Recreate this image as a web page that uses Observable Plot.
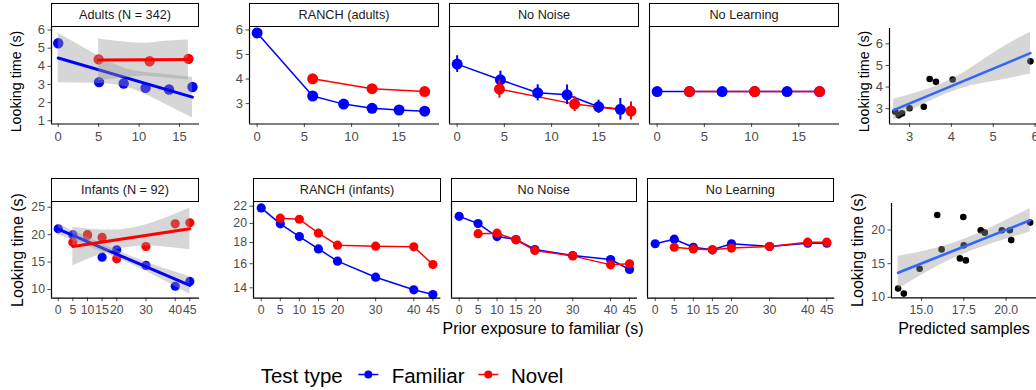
<!DOCTYPE html>
<html><head><meta charset="utf-8">
<script src="https://cdn.jsdelivr.net/npm/d3@7"></script>
<script src="https://cdn.jsdelivr.net/npm/@observablehq/plot@0.6"></script>
<style>
body{margin:0;background:#fff;}
#root{position:relative;width:1036px;height:390px;overflow:hidden;font-family:"Liberation Sans",Arial,sans-serif;background:#fff;}
.strip{position:absolute;box-sizing:border-box;border:1.3px solid #000;background:#fff;display:flex;align-items:center;justify-content:center;font-size:12.7px;color:#1a1a1a;white-space:nowrap;}
</style></head><body><div id="root"></div>
<script>
// ---------- Data ----------
// Row 1: adults
const adultFamX = [0, 5.05, 8.1, 10.8, 13.7, 16.6];
const adultFamY = [5.27, 3.13, 3.05, 2.81, 2.72, 2.86];
const adultNovX = [5.0, 11.3, 16.1];
const adultNovY = [4.38, 4.28, 4.41];
const adultFamFitX = [0, 16.6], adultFamFitY = [4.46, 2.30];
const adultNovFitX = [5.0, 16.1], adultNovFitY = [4.35, 4.37];
const adultFamBandX = [0, 4.15, 8.3, 12.45, 16.6];
const adultFamBandLo = [3.10, 3.07, 2.88, 2.09, 1.15];
const adultFamBandHi = [5.82, 4.77, 3.88, 3.59, 3.40];
const adultNovBandX = [5.0, 7.8, 10.55, 13.3, 16.1];
const adultNovBandLo = [3.20, 3.35, 3.45, 3.35, 3.25];
const adultNovBandHi = [5.50, 5.35, 5.27, 5.38, 5.45];

const ranchAdFamX = [0, 5.88, 9.16, 12.17, 15.03, 17.74];
const ranchAdFamY = [5.88, 3.31, 2.98, 2.81, 2.74, 2.69];
const ranchAdNovX = [5.88, 12.17, 17.74];
const ranchAdNovY = [4.01, 3.61, 3.49];

const noNoiseAdFamX = [0, 4.58, 8.53, 11.64, 14.98, 17.28];
const noNoiseAdFamY = [4.61, 3.97, 3.44, 3.36, 2.87, 2.77];
const noNoiseAdFamErr = [0.34, 0.35, 0.33, 0.40, 0.27, 0.44];
const noNoiseAdNovX = [4.48, 12.44, 18.41];
const noNoiseAdNovY = [3.59, 2.98, 2.70];
const noNoiseAdNovErr = [0.37, 0.30, 0.37];

const noLearnAdFamX = [0, 3.42, 6.88, 10.33, 13.76, 17.2];
const noLearnAdFamY = [3.49, 3.49, 3.49, 3.49, 3.49, 3.49];
const noLearnAdNovX = [3.42, 10.33, 17.2];
const noLearnAdNovY = [3.49, 3.49, 3.49];

const scatAdX = [2.66, 2.74, 2.82, 3.0, 3.34, 3.48, 3.63, 4.03, 5.89];
const scatAdY = [2.86, 2.69, 2.78, 3.02, 3.09, 4.37, 4.24, 4.35, 5.19];
const scatAdFitX = [2.62, 5.89], scatAdFitY = [2.93, 5.57];
const scatAdBandX = [2.62, 3.5, 4.3, 5.1, 5.89];
const scatAdBandLo = [2.47, 3.35, 3.97, 4.29, 4.60];
const scatAdBandHi = [3.43, 3.95, 4.67, 5.69, 6.54];

// Row 2: infants
const infX = [0, 5, 10, 15, 20, 30, 40, 45];
const infNovXs = [5, 10, 15, 20, 30, 40, 45];
const infFamY = [21.07, 19.97, 19.9, 15.9, 17.24, 14.4, 10.6, 11.47];
const infNovY = [18.6, 20.0, 19.5, 15.6, 17.84, 21.97, 22.16];
const infFamFitX = [0, 45], infFamFitY = [21.0, 10.74];
const infNovFitX = [5, 45], infNovFitY = [17.84, 21.07];
const infFamBandX = [0, 11, 22, 33, 45];
const infFamBandLo = [20.0, 17.69, 15.28, 12.52, 9.14];
const infFamBandHi = [22.0, 19.29, 16.68, 14.42, 12.34];
const infNovBandX = [5, 15, 25, 35, 45];
const infNovBandLo = [14.34, 16.45, 17.76, 17.86, 17.27];
const infNovBandHi = [21.34, 20.85, 21.16, 22.66, 24.87];

const ranchInfFamY = [21.8, 19.96, 18.6, 17.37, 16.23, 14.85, 13.85, 13.49];
const ranchInfNovY = [20.59, 20.47, 18.95, 17.73, 17.63, 17.57, 15.93];
const noNoiseInfFamY = [20.8, 19.99, 18.6, 18.3, 17.31, 16.74, 16.38, 15.5];
const noNoiseInfNovY = [18.9, 18.95, 18.27, 17.22, 16.71, 15.9, 16.0];
const noLearnInfFamY = [17.87, 18.33, 17.53, 17.28, 17.87, 17.6, 17.93, 17.93];
const noLearnInfNovY = [17.53, 17.37, 17.28, 17.45, 17.6, 18.03, 18.03];

const scatInfX = [13.62, 13.96, 14.89, 15.93, 16.19, 17.27, 17.47, 17.5, 17.62, 18.5, 18.74, 19.75, 20.22, 20.3, 21.42];
const scatInfY = [11.3, 10.55, 14.24, 22.24, 17.12, 15.78, 21.94, 17.72, 15.48, 19.96, 19.61, 19.96, 19.96, 18.5, 21.1];
const scatInfFitX = [13.62, 21.42], scatInfFitY = [13.64, 21.45];
const scatInfBandX = [13.62, 15.57, 17.52, 19.47, 21.42];
const scatInfBandLo = [11.19, 14.09, 16.44, 18.2, 19.7];
const scatInfBandHi = [16.09, 17.09, 18.64, 20.8, 23.2];

// Ticks and labels
const row1XTicks = [0, 5, 10, 15];
const row2XTicks = [0, 5, 10, 15, 20, 30, 40, 45];
const adultYTicks = [1, 2, 3, 4, 5, 6];
const ranchAdYTicks = [3, 4, 5, 6];
const infYTicks = [10, 15, 20, 25];
const ranchInfYTicks = [14, 16, 18, 20, 22];
const scatAdXTicks = [3, 4, 5, 6], scatAdYTicks = [3, 4, 5, 6];
const scatInfXTicks = [15, 17.5, 20], scatInfYTicks = [10, 15, 20];
const stripLabels1 = ["Adults (N = 342)", "RANCH (adults)", "No Noise", "No Learning"];
const stripLabels2 = ["Infants (N = 92)", "RANCH (infants)", "No Noise", "No Learning"];
const yTitle = "Looking time (s)";
const xTitle = "Prior exposure to familiar (s)";
const scatXTitle = "Predicted samples";
const legendTitle = "Test type";
const legendLabels = ["Familiar", "Novel"];

// ---------- Rendering ----------
const BLUE = "#0000ff", RED = "#ff0000", FIT = "#3366ff", BANDFILL = "#999999";
const FONT = '"Liberation Sans", Arial, sans-serif';
const root = document.getElementById("root");
const zip = (xs, ys, extra) => xs.map((x, i) => Object.assign({x, y: ys[i]}, extra ? extra(i) : {}));
const band = (xs, lo, hi) => xs.map((x, i) => ({x, lo: lo[i], hi: hi[i]}));

function panel(b, o) {
  const mL = 40, mR = 6, mT = 4, mB = 28;
  const svg = Plot.plot({
    width: b.R - b.L + mL + mR, height: b.B - b.T + mT + mB,
    marginLeft: mL, marginRight: mR, marginTop: mT, marginBottom: mB,
    style: {background: "transparent", fontFamily: FONT, fontSize: o.fs + "px", color: "#4d4d4d", overflow: "visible"},
    x: {domain: o.xd, ticks: o.xt, tickFormat: o.xf || (d => String(d)), tickSize: 3.5, tickPadding: 4, label: null},
    y: {domain: o.yd, type: o.ytype || "linear", ticks: o.yt, tickFormat: d => String(d), tickSize: 3.5, tickPadding: 3, label: null, axis: o.yt ? "left" : null},
    marks: [
      ...o.marks,
      Plot.ruleX([o.xd[0]], {stroke: "#000", strokeWidth: 1.2}),
      Plot.ruleY([o.yd[0]], {stroke: "#000", strokeWidth: 1.2})
    ]
  });
  svg.style.position = "absolute";
  svg.style.left = (b.L - mL) + "px";
  svg.style.top = (b.T - mT) + "px";
  svg.style.maxWidth = "none";
  root.appendChild(svg);
}

function strip(L, R, T, B, text) {
  const d = document.createElement("div");
  d.className = "strip";
  d.style.left = L + "px"; d.style.top = T + "px";
  d.style.width = (R - L) + "px"; d.style.height = (B - T) + "px";
  d.textContent = text;
  root.appendChild(d);
}

function modelMarks(fam, nov, r, withErr) {
  const m = [
    Plot.line(fam, {x: "x", y: "y", stroke: BLUE, strokeWidth: 1.5}),
    Plot.line(nov, {x: "x", y: "y", stroke: RED, strokeWidth: 1.5})
  ];
  if (withErr) m.push(Plot.ruleX(fam, {x: "x", y1: d => d.y - d.e, y2: d => d.y + d.e, stroke: BLUE, strokeWidth: 2}));
  m.push(Plot.dot(fam, {x: "x", y: "y", r, fill: BLUE, stroke: "none"}));
  if (withErr) m.push(Plot.ruleX(nov, {x: "x", y1: d => d.y - d.e, y2: d => d.y + d.e, stroke: RED, strokeWidth: 2}));
  m.push(Plot.dot(nov, {x: "x", y: "y", r, fill: RED, stroke: "none"}));
  return m;
}

function smoothMarks(bandData, fitData, color, w) {
  return [
    Plot.areaY(bandData, {x: "x", y1: "lo", y2: "hi", fill: BANDFILL, fillOpacity: 0.4, curve: "natural"}),
    Plot.line(fitData, {x: "x", y: "y", stroke: color, strokeWidth: w})
  ];
}

// Row 1 geometry
const r1T = 27, r1B = 123.5;
const row1Y = [2.17, 6.1];
const row1X = [-0.81, 19.31];
const fs1 = 13, fs2 = 12.3;

// Adults panel
panel({L: 51, R: 199, T: r1T, B: r1B}, {
  fs: fs1, xd: [-0.83, 17.47], yd: [0.82, 6.14], xt: row1XTicks, yt: adultYTicks,
  marks: [
    Plot.dot(zip(adultFamX, adultFamY), {x: "x", y: "y", r: 5.2, fill: BLUE}),
    Plot.dot(zip(adultNovX, adultNovY), {x: "x", y: "y", r: 5.2, fill: RED}),
    ...smoothMarks(band(adultFamBandX, adultFamBandLo, adultFamBandHi), zip(adultFamFitX, adultFamFitY), BLUE, 3),
    ...smoothMarks(band(adultNovBandX, adultNovBandLo, adultNovBandHi), zip(adultNovFitX, adultNovFitY), RED, 3)
  ]
});
panel({L: 249, R: 439, T: r1T, B: r1B}, {
  fs: fs1, xd: row1X, yd: row1Y, xt: row1XTicks, yt: ranchAdYTicks,
  marks: modelMarks(zip(ranchAdFamX, ranchAdFamY), zip(ranchAdNovX, ranchAdNovY), 5.5, false)
});
panel({L: 449, R: 639, T: r1T, B: r1B}, {
  fs: fs1, xd: row1X, yd: row1Y, xt: row1XTicks,
  marks: modelMarks(zip(noNoiseAdFamX, noNoiseAdFamY, i => ({e: noNoiseAdFamErr[i]})),
                    zip(noNoiseAdNovX, noNoiseAdNovY, i => ({e: noNoiseAdNovErr[i]})), 5.5, true)
});
panel({L: 649, R: 839, T: r1T, B: r1B}, {
  fs: fs1, xd: row1X, yd: row1Y, xt: row1XTicks,
  marks: modelMarks(zip(noLearnAdFamX, noLearnAdFamY), zip(noLearnAdNovX, noLearnAdNovY), 5.5, false)
});
panel({L: 889, R: 1040, T: 28, B: r1B}, {
  fs: fs1, xd: [2.52, 6.13], yd: [2.29, 6.71], xt: scatAdXTicks, yt: scatAdYTicks,
  marks: [
    Plot.dot(zip(scatAdX, scatAdY), {x: "x", y: "y", r: 3.3, fill: "#000"}),
    ...smoothMarks(band(scatAdBandX, scatAdBandLo, scatAdBandHi), zip(scatAdFitX, scatAdFitY), FIT, 2.6)
  ]
});

// Row 2 geometry
const r2T = 202, r2B = 297.7;
const row2Y = [13.22, 22.46];
const row2X = [-2.02, 47.1];

panel({L: 51, R: 199, T: r2T, B: r2B}, {
  fs: fs2, xd: [-2.3, 48.3], yd: [8.42, 25.86], xt: row2XTicks, yt: infYTicks,
  marks: [
    Plot.dot(zip(infX, infFamY), {x: "x", y: "y", r: 4.6, fill: BLUE}),
    Plot.dot(zip(infNovXs, infNovY), {x: "x", y: "y", r: 4.6, fill: RED}),
    ...smoothMarks(band(infFamBandX, infFamBandLo, infFamBandHi), zip(infFamFitX, infFamFitY), BLUE, 3),
    ...smoothMarks(band(infNovBandX, infNovBandLo, infNovBandHi), zip(infNovFitX, infNovFitY), RED, 3)
  ]
});
panel({L: 253.3, R: 440.7, T: r2T, B: r2B}, {
  fs: fs2, xd: row2X, yd: row2Y, ytype: "log", xt: row2XTicks, yt: ranchInfYTicks,
  marks: modelMarks(zip(infX, ranchInfFamY), zip(infNovXs, ranchInfNovY), 4.6, false)
});
panel({L: 450.7, R: 636.7, T: r2T, B: r2B}, {
  fs: fs2, xd: row2X, yd: row2Y, ytype: "log", xt: row2XTicks,
  marks: modelMarks(zip(infX, noNoiseInfFamY), zip(infNovXs, noNoiseInfNovY), 4.6, false)
});
panel({L: 646.7, R: 834, T: r2T, B: r2B}, {
  fs: fs2, xd: row2X, yd: row2Y, ytype: "log", xt: row2XTicks,
  marks: modelMarks(zip(infX, noLearnInfFamY), zip(infNovXs, noLearnInfNovY), 4.6, false)
});
panel({L: 891, R: 1040, T: 203.3, B: r2B}, {
  fs: fs2, xd: [13.23, 22.03], yd: [9.91, 23.94], xt: scatInfXTicks, xf: d => d.toFixed(1), yt: scatInfYTicks,
  marks: [
    Plot.dot(zip(scatInfX, scatInfY), {x: "x", y: "y", r: 3.3, fill: "#000"}),
    ...smoothMarks(band(scatInfBandX, scatInfBandLo, scatInfBandHi), zip(scatInfFitX, scatInfFitY), FIT, 2.6)
  ]
});

// Strips
const strip1L = [51, 249, 449, 649], strip1R = [199, 439, 639, 839];
const strip2L = [51, 253.3, 450.7, 646.7], strip2R = [199, 440.7, 636.7, 834];
stripLabels1.forEach((t, i) => strip(strip1L[i], strip1R[i], 3.3, 27, t));
stripLabels2.forEach((t, i) => strip(strip2L[i], strip2R[i], 178, 202, t));

// Titles and legend (overlay)
const NS = "http://www.w3.org/2000/svg";
const ov = document.createElementNS(NS, "svg");
ov.setAttribute("width", 1036); ov.setAttribute("height", 390);
ov.style.position = "absolute"; ov.style.left = "0px"; ov.style.top = "0px"; ov.style.pointerEvents = "none";
root.appendChild(ov);
function txt(s, x, y, size, opts = {}) {
  const t = document.createElementNS(NS, "text");
  t.setAttribute("font-family", FONT);
  t.setAttribute("font-size", size);
  t.setAttribute("fill", "#000");
  t.setAttribute("text-anchor", opts.anchor || "start");
  if (opts.rotate) t.setAttribute("transform", `translate(${x},${y}) rotate(-90)`);
  else { t.setAttribute("x", x); t.setAttribute("y", y); }
  t.textContent = s;
  ov.appendChild(t);
}
txt(yTitle, 20.5, 81.5, 14.3, {rotate: true, anchor: "middle"});
txt(yTitle, 868.5, 81.5, 14.3, {rotate: true, anchor: "middle"});
txt(yTitle, 23, 250, 16, {rotate: true, anchor: "middle"});
txt(yTitle, 863, 250, 16, {rotate: true, anchor: "middle"});
txt(xTitle, 543, 333.5, 16, {anchor: "middle"});
txt(scatXTitle, 964, 333.5, 16, {anchor: "middle"});
txt(legendTitle, 260.7, 382.5, 20.5);
const keyX = [358.3, 478.3], labX = [391.7, 511], keyCol = [BLUE, RED];
legendLabels.forEach((lab, i) => {
  const l = document.createElementNS(NS, "line");
  l.setAttribute("x1", keyX[i]); l.setAttribute("x2", keyX[i] + 20);
  l.setAttribute("y1", 374.5); l.setAttribute("y2", 374.5);
  l.setAttribute("stroke", keyCol[i]); l.setAttribute("stroke-width", 1.5);
  ov.appendChild(l);
  const c = document.createElementNS(NS, "circle");
  c.setAttribute("cx", keyX[i] + 10); c.setAttribute("cy", 374.5); c.setAttribute("r", 4);
  c.setAttribute("fill", keyCol[i]);
  ov.appendChild(c);
  txt(lab, labX[i], 382.5, 20.5);
});
</script></body></html>
